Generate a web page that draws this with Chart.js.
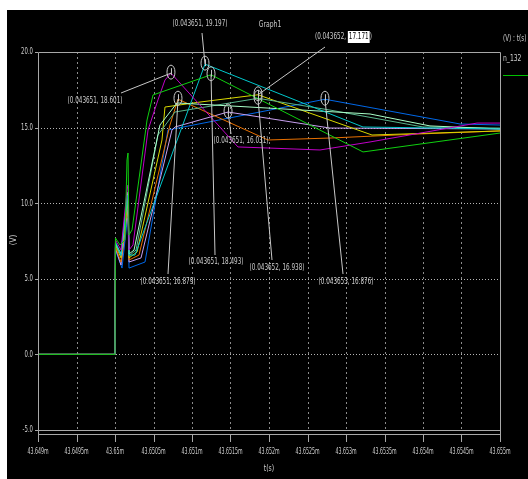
<!DOCTYPE html>
<html>
<head>
<meta charset="utf-8">
<script src="https://cdn.jsdelivr.net/npm/chart.js@4.4.1/dist/chart.umd.min.js"></script>
<style>
    html, body { margin: 0; padding: 0; background: #ffffff; }
    #wrap { width: 528px; height: 479px; }
</style>
</head>
<body>
<div id="wrap"><canvas id="graph" width="528" height="479"></canvas></div>
<script>
// 軸の目盛り
const xTicks = [43.649, 43.6495, 43.65, 43.6505, 43.651, 43.6515, 43.652, 43.6525, 43.653, 43.6535, 43.654, 43.6545, 43.655];
const xTickLabels = ['43.649m', '43.6495m', '43.65m', '43.6505m', '43.651m', '43.6515m', '43.652m', '43.6525m', '43.653m', '43.6535m', '43.654m', '43.6545m', '43.655m'];
const yTicks = [-5, 0, 5, 10, 15, 20];
const yTickLabels = ['-5.0', '0.0', '5.0', '10.0', '15.0', '20.0'];

// 各波形 (t[ms], V)
const greenT = [43.649, 43.65, 43.650006, 43.650065, 43.65013, 43.650156, 43.650169, 43.650182, 43.650221, 43.650416, 43.650494, 43.651247, 43.653221, 43.655];
const greenV = [0, 0, 7.70, 7.24, 7.57, 12.86, 13.32, 7.90, 8.23, 15.50, 17.16, 18.493, 13.39, 14.64];

const purpleT = [43.649, 43.65, 43.650006, 43.650078, 43.650156, 43.650169, 43.650182, 43.650234, 43.650429, 43.650558, 43.650649, 43.650727, 43.651597, 43.651987, 43.652662, 43.653312, 43.654701, 43.655];
const purpleV = [0, 0, 7.57, 6.90, 10.87, 11.20, 6.90, 7.24, 14.84, 16.83, 18.15, 18.601, 13.72, 13.65, 13.52, 14.05, 15.30, 15.30];

const cyanT = [43.649, 43.65, 43.650006, 43.650078, 43.650156, 43.650169, 43.650182, 43.65026, 43.651169, 43.653221, 43.655];
const cyanV = [0, 0, 7.43, 6.57, 10.21, 10.54, 6.57, 6.57, 19.197, 15.04, 14.91];

const paleT = [43.649, 43.65, 43.650006, 43.650078, 43.650156, 43.650169, 43.650182, 43.650247, 43.650584, 43.650805, 43.651753, 43.653312, 43.654091, 43.655];
const paleV = [0, 0, 7.37, 6.64, 10.34, 10.74, 6.64, 6.90, 15.17, 16.63, 16.36, 15.90, 15.11, 14.91];

const seaT = [43.649, 43.65, 43.650006, 43.650078, 43.650156, 43.650169, 43.650182, 43.650273, 43.650558, 43.650779, 43.651857, 43.652792, 43.654, 43.655];
const seaV = [0, 0, 7.30, 6.51, 10.08, 10.34, 6.51, 6.90, 14.51, 16.03, 16.938, 16.16, 15.04, 14.97];

const yellowT = [43.649, 43.65, 43.650006, 43.650078, 43.650156, 43.650169, 43.650182, 43.650286, 43.65061, 43.650649, 43.651104, 43.651857, 43.653338, 43.655];
const yellowV = [0, 0, 7.24, 6.38, 9.88, 10.21, 6.38, 6.77, 14.18, 16.36, 16.69, 17.171, 14.51, 14.78];

const orangeT = [43.649, 43.65, 43.650006, 43.650078, 43.650156, 43.650169, 43.650182, 43.650312, 43.650714, 43.650818, 43.651987, 43.652792, 43.653961, 43.655];
const orangeV = [0, 0, 7.10, 6.11, 9.55, 9.88, 6.24, 6.57, 15.17, 16.879, 14.18, 14.31, 14.58, 14.78];

const lavenderT = [43.649, 43.65, 43.650006, 43.650078, 43.650156, 43.650169, 43.650182, 43.650338, 43.65074, 43.650779, 43.651468, 43.652792, 43.655];
const lavenderV = [0, 0, 7.04, 5.91, 9.22, 9.55, 6.11, 6.38, 14.84, 15.04, 16.031, 14.97, 14.91];

const blueT = [43.649, 43.65, 43.650006, 43.650091, 43.650156, 43.650169, 43.650182, 43.65039, 43.650688, 43.652727, 43.654481, 43.655];
const blueV = [0, 0, 6.90, 5.71, 8.76, 9.02, 5.71, 6.11, 14.84, 16.876, 15.24, 15.17];

// カーソル注記
const markerT = [43.650727, 43.651169, 43.651247, 43.651857, 43.650818, 43.651468, 43.651857, 43.652727];
const markerV = [18.601, 19.197, 18.493, 17.171, 16.879, 16.031, 16.938, 16.876];
const markerText = ['(0.043651, 18.601)', '(0.043651, 19.197)', '(0.043651, 18.493)', '(0.043652, ', '(0.043651, 16.879)', '(0.043651, 16.031)', '(0.043652, 16.938)', '(0.043653, 16.876)'];

const TEXT = '#cccccc';
const FONT = "9px 'Liberation Sans Narrow', 'DejaVu Sans Condensed', sans-serif";

function series(t, v) {
    return t.map((x, i) => ({ x: x, y: v[i] }));
}

function squishText(ctx, text, x, y, align, sx) {
    ctx.save();
    ctx.font = FONT;
    ctx.textBaseline = 'middle';
    const w = ctx.measureText(text).width * sx;
    let left = x;
    if (align === 'center') left = x - w / 2;
    if (align === 'right') left = x - w;
    ctx.translate(left, y);
    ctx.scale(sx, 1);
    ctx.textAlign = 'left';
    ctx.fillText(text, 0, 0);
    ctx.restore();
    return w;
}

function textWidth(ctx, text, sx) {
    ctx.save();
    ctx.font = FONT;
    const w = ctx.measureText(text).width * sx;
    ctx.restore();
    return w;
}

function dotted(ctx, x1, y1, x2, y2, color, dash) {
    ctx.save();
    ctx.strokeStyle = color;
    ctx.lineWidth = 1;
    ctx.setLineDash(dash);
    ctx.beginPath();
    ctx.moveTo(x1, y1);
    ctx.lineTo(x2, y2);
    ctx.stroke();
    ctx.restore();
}

// 背景・グリッド
const backPlugin = {
    id: 'backPlugin',
    beforeDraw(chart) {
        const ctx = chart.ctx;
        ctx.save();
        ctx.fillStyle = '#ffffff';
        ctx.fillRect(0, 0, chart.width, chart.height);
        ctx.fillStyle = '#000000';
        ctx.fillRect(7, 10, chart.width - 7, chart.height - 10);
        ctx.restore();
    },
    beforeDatasetsDraw(chart) {
        const ctx = chart.ctx;
        const a = chart.chartArea;
        const xs = chart.scales.x;
        const ys = chart.scales.y;
        xTicks.forEach((t, i) => {
            if (i === 0 || i === xTicks.length - 1) return;
            const px = Math.round(xs.getPixelForValue(t)) + 0.5;
            dotted(ctx, px, a.top, px, a.bottom, '#8c8c8c', [2, 3]);
        });
        yTicks.forEach((v) => {
            if (v === -5 || v === 20) return;
            const py = Math.round(ys.getPixelForValue(v)) + 0.5;
            dotted(ctx, a.left, py, a.right, py, '#b4b4b4', [1, 2]);
        });
    },
    afterDatasetsDraw(chart) {
        const ctx = chart.ctx;
        const a = chart.chartArea;
        const xs = chart.scales.x;
        const ys = chart.scales.y;
        ctx.save();
        ctx.strokeStyle = '#a8a8a8';
        ctx.lineWidth = 1;
        ctx.beginPath();
        // 枠
        ctx.moveTo(a.left + 0.5, a.top + 0.5);
        ctx.lineTo(a.right + 0.5, a.top + 0.5);
        ctx.lineTo(a.right + 0.5, a.bottom + 4.5);
        ctx.moveTo(a.left + 0.5, a.top + 0.5);
        ctx.lineTo(a.left + 0.5, a.bottom + 4.5);
        ctx.moveTo(a.left + 0.5, a.bottom + 0.5);
        ctx.lineTo(a.right + 0.5, a.bottom + 0.5);
        ctx.moveTo(a.left + 0.5, a.bottom + 4.5);
        ctx.lineTo(a.right + 0.5, a.bottom + 4.5);
        ctx.stroke();
        // 目盛り線
        ctx.beginPath();
        xTicks.forEach((t) => {
            const px = Math.round(xs.getPixelForValue(t)) + 0.5;
            ctx.moveTo(px, a.bottom + 4);
            ctx.lineTo(px, a.bottom + 12);
        });
        yTicks.forEach((v) => {
            const py = Math.round(ys.getPixelForValue(v)) + 0.5;
            ctx.moveTo(a.left - 3, py);
            ctx.lineTo(a.left, py);
        });
        ctx.stroke();

        ctx.fillStyle = TEXT;
        xTicks.forEach((t, i) => {
            squishText(ctx, xTickLabels[i], xs.getPixelForValue(t), a.bottom + 22, 'center', 0.58);
        });
        yTicks.forEach((v, i) => {
            squishText(ctx, yTickLabels[i], a.left - 5, ys.getPixelForValue(v), 'right', 0.66);
        });
        // 軸タイトル
        squishText(ctx, 't(s)', 269, 469, 'center', 0.75);
        ctx.save();
        ctx.translate(14, 240);
        ctx.rotate(-Math.PI / 2);
        squishText(ctx, '(V)', 0, 0, 'center', 0.9);
        ctx.restore();
        // タイトル・凡例
        squishText(ctx, 'Graph1', 270, 25, 'center', 0.75);
        squishText(ctx, '(V) : t(s)', 503, 39, 'left', 0.7);
        squishText(ctx, 'n_132', 503, 59, 'left', 0.75);
        ctx.strokeStyle = '#00c000';
        ctx.beginPath();
        ctx.moveTo(503, 75.5);
        ctx.lineTo(528, 75.5);
        ctx.stroke();

        // カーソル注記
        const sx = 0.7;
        const labelPos = [[95, 101, 121, 93], [200, 24, 202, 33], [216, 262, 215, 255], [338, 37, 325, 47],
                          [168, 282, 168, 274], [241, 141, 231, 134], [277, 268, 272, 260], [346, 282, 343, 274]];
        markerT.forEach((t, i) => {
            const mx = xs.getPixelForValue(t);
            const my = ys.getPixelForValue(markerV[i]);
            const p = labelPos[i];
            ctx.strokeStyle = '#c8c8c8';
            ctx.beginPath();
            ctx.moveTo(p[2], p[3]);
            ctx.lineTo(mx, my);
            ctx.stroke();
            ctx.beginPath();
            ctx.ellipse(mx, my - 1, 4, 7, 0, 0, Math.PI * 2);
            ctx.stroke();
            ctx.beginPath();
            ctx.moveTo(mx + 0.5, my - 5);
            ctx.lineTo(mx + 0.5, my + 2);
            ctx.stroke();
            ctx.fillStyle = TEXT;
            if (i === 3) {
                const left = p[0] - 23;
                const w = squishText(ctx, markerText[i], left, p[1], 'left', sx);
                const w2 = textWidth(ctx, '17.171', sx);
                ctx.fillStyle = '#ffffff';
                ctx.fillRect(left + w, p[1] - 6, w2 + 2, 12);
                ctx.fillStyle = '#000000';
                squishText(ctx, '17.171', left + w + 1, p[1], 'left', sx);
                ctx.fillStyle = TEXT;
                squishText(ctx, ')', left + w + w2 + 2, p[1], 'left', sx);
            } else {
                squishText(ctx, markerText[i], p[0], p[1], 'center', sx);
            }
        });
        ctx.restore();
    }
};

function line(label, color, t, v) {
    return {
        label: label,
        data: series(t, v),
        borderColor: color,
        borderWidth: 1,
        pointRadius: 0,
        tension: 0,
        fill: false
    };
}

new Chart(document.getElementById('graph'), {
    type: 'line',
    data: {
        datasets: [
            line('green', '#10d010', greenT, greenV),
            line('purple', '#c000c8', purpleT, purpleV),
            line('cyan', '#00c8cc', cyanT, cyanV),
            line('pale', '#a8ffc8', paleT, paleV),
            line('sea', '#58b48c', seaT, seaV),
            line('yellow', '#d8d800', yellowT, yellowV),
            line('orange', '#e87000', orangeT, orangeV),
            line('lavender', '#c8a0f0', lavenderT, lavenderV),
            line('blue', '#0068e8', blueT, blueV)
        ]
    },
    options: {
        responsive: false,
        animation: false,
        layout: { padding: { left: 38, right: 28, top: 52, bottom: 49 } },
        plugins: { legend: { display: false }, tooltip: { enabled: false } },
        scales: {
            x: { type: 'linear', min: 43.649, max: 43.655, display: false },
            y: { min: -5, max: 20, display: false }
        }
    },
    plugins: [backPlugin]
});
</script>
</body>
</html>
